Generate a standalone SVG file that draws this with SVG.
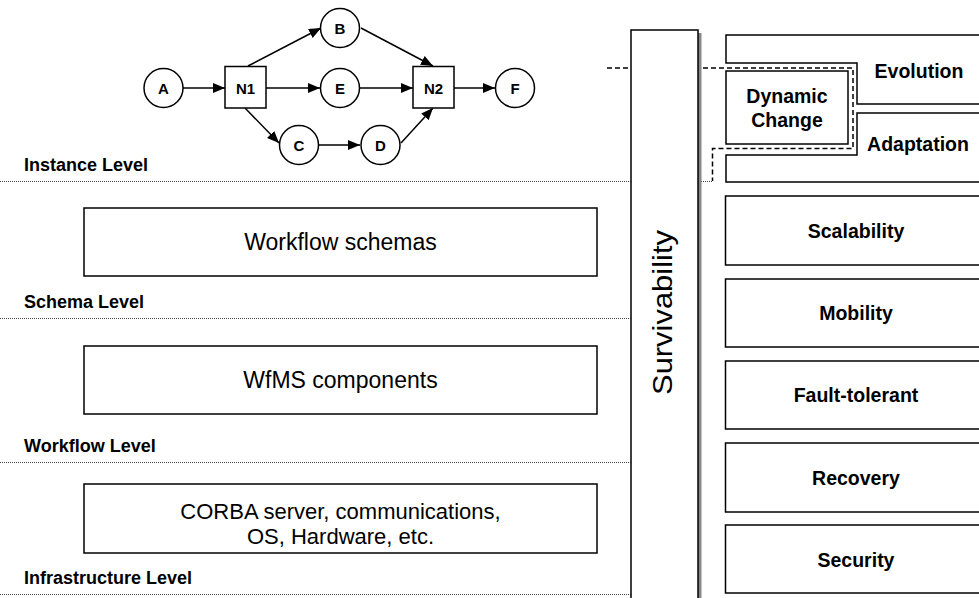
<svg xmlns="http://www.w3.org/2000/svg" width="979" height="598" viewBox="0 0 979 598">
<style>
.box{fill:#fff;stroke:#000;stroke-width:1.5}
.lvl{font-family:"Liberation Sans",Arial,sans-serif;font-weight:bold;font-size:18px;fill:#000}
.big{font-family:"Liberation Sans",Arial,sans-serif;font-size:23px;fill:#000;text-anchor:middle}
.big2{font-family:"Liberation Sans",Arial,sans-serif;font-size:22px;fill:#000;text-anchor:middle}
.rl{font-family:"Liberation Sans",Arial,sans-serif;font-weight:bold;font-size:19.5px;fill:#000;text-anchor:middle}
.nl{font-family:"Liberation Sans",Arial,sans-serif;font-weight:bold;font-size:15px;fill:#000;text-anchor:middle}
.dot{stroke:#444;stroke-width:1;stroke-dasharray:1 1;fill:none}
.dash{stroke:#000;stroke-width:1.5;stroke-dasharray:5 3;fill:none}
.conn{stroke:#000;stroke-width:1.5;fill:none;marker-end:url(#ah)}
</style>
<defs>
<marker id="ah" markerUnits="userSpaceOnUse" markerWidth="13" markerHeight="11" refX="12" refY="5" orient="auto">
<path d="M0,0 L12,5 L0,10 z" fill="#000"/>
</marker>
</defs>
<rect width="979" height="598" fill="#fff"/>

<!-- level separators -->
<g id="levels">
<line class="dot" x1="0" y1="181.5" x2="631" y2="181.5"/>
<line class="dot" x1="701" y1="181.5" x2="712" y2="181.5"/>
<line class="dot" x1="0" y1="318.5" x2="631" y2="318.5"/>
<line class="dot" x1="0" y1="462.5" x2="631" y2="462.5"/>
<line class="dot" x1="0" y1="594.5" x2="631" y2="594.5"/>
<text class="lvl" x="24" y="171">Instance Level</text>
<text class="lvl" x="24" y="308">Schema Level</text>
<text class="lvl" x="24" y="452">Workflow Level</text>
<text class="lvl" x="24" y="584">Infrastructure Level</text>
</g>

<!-- dashed boundary of dynamic change -->
<g id="dynamic-boundary">
<path class="dash" d="M607,68 H853 V148.5 H712.5 V181"/>
</g>

<!-- left layer boxes -->
<g id="workflow-schemas">
<rect class="box" x="84" y="208" width="513" height="68"/>
<text class="big" x="340.5" y="250">Workflow schemas</text>
</g>
<g id="wfms-components">
<rect class="box" x="84" y="346" width="513" height="68"/>
<text class="big" x="340.5" y="388">WfMS components</text>
</g>
<g id="infrastructure">
<rect class="box" x="84" y="484" width="513" height="69"/>
<text class="big2" x="340.5" y="519">CORBA server, communications,</text>
<text class="big2" x="340.5" y="544">OS, Hardware, etc.</text>
</g>

<!-- survivability -->
<g id="survivability">
<rect x="698" y="33" width="3.5" height="565" fill="#888"/>
<rect class="box" x="631" y="30" width="67" height="570"/>
<text transform="translate(672,312.5) rotate(-90)" font-family="Liberation Sans, Arial, sans-serif" font-size="28" text-anchor="middle" textLength="165" lengthAdjust="spacingAndGlyphs">Survivability</text>
</g>

<!-- right property boxes -->
<g id="evolution">
<path class="box" d="M726,35 H995 V104 H857 V63 H726 Z"/>
<text class="rl" x="919" y="78">Evolution</text>
</g>
<g id="adaptation">
<path class="box" d="M857,113 H995 V182 H726 V155 H857 Z"/>
<text class="rl" x="918" y="151">Adaptation</text>
</g>
<g id="dynamic-change">
<rect class="box" x="726" y="71" width="122" height="73"/>
<text class="rl" x="787" y="103">Dynamic</text>
<text class="rl" x="787" y="127">Change</text>
</g>
<g id="scalability">
<rect class="box" x="725.5" y="196" width="270" height="69"/>
<text class="rl" x="856" y="238">Scalability</text>
</g>
<g id="mobility">
<rect class="box" x="725.5" y="279" width="270" height="68"/>
<text class="rl" x="856" y="320">Mobility</text>
</g>
<g id="fault-tolerant">
<rect class="box" x="725.5" y="361" width="270" height="68"/>
<text class="rl" x="856" y="402">Fault-tolerant</text>
</g>
<g id="recovery">
<rect class="box" x="725.5" y="443" width="270" height="69"/>
<text class="rl" x="856" y="485">Recovery</text>
</g>
<g id="security">
<rect class="box" x="725.5" y="525" width="270" height="68"/>
<text class="rl" x="856" y="567">Security</text>
</g>

<!-- instance graph connectors -->
<g id="connectors">
<line class="conn" x1="183" y1="88" x2="225" y2="88"/>
<line class="conn" x1="248" y1="66" x2="321" y2="28"/>
<line class="conn" x1="266" y1="88" x2="320" y2="88"/>
<line class="conn" x1="245" y1="108" x2="279" y2="143"/>
<line class="conn" x1="361" y1="28" x2="433" y2="66"/>
<line class="conn" x1="360" y1="88" x2="413" y2="88"/>
<line class="conn" x1="319" y1="145" x2="360" y2="145"/>
<line class="conn" x1="401" y1="143" x2="433" y2="108"/>
<line class="conn" x1="454" y1="88" x2="495" y2="88"/>
</g>

<!-- instance graph nodes -->
<g id="node-A"><circle class="box" cx="163.5" cy="88" r="19.5"/><text class="nl" x="163.5" y="93.5">A</text></g>
<g id="node-N1"><rect class="box" x="225" y="66.5" width="41" height="41.5"/><text class="nl" x="245.5" y="93.5">N1</text></g>
<g id="node-B"><circle class="box" cx="340" cy="28" r="19.5"/><text class="nl" x="340" y="33.5">B</text></g>
<g id="node-E"><circle class="box" cx="340" cy="88" r="19.5"/><text class="nl" x="340" y="93.5">E</text></g>
<g id="node-C"><circle class="box" cx="299" cy="145" r="19.5"/><text class="nl" x="299" y="150.5">C</text></g>
<g id="node-D"><circle class="box" cx="380.5" cy="145" r="19.5"/><text class="nl" x="380.5" y="150.5">D</text></g>
<g id="node-N2"><rect class="box" x="413" y="66.5" width="41" height="41.5"/><text class="nl" x="433.5" y="93.5">N2</text></g>
<g id="node-F"><circle class="box" cx="515" cy="88" r="19.5"/><text class="nl" x="515" y="93.5">F</text></g>
</svg>
